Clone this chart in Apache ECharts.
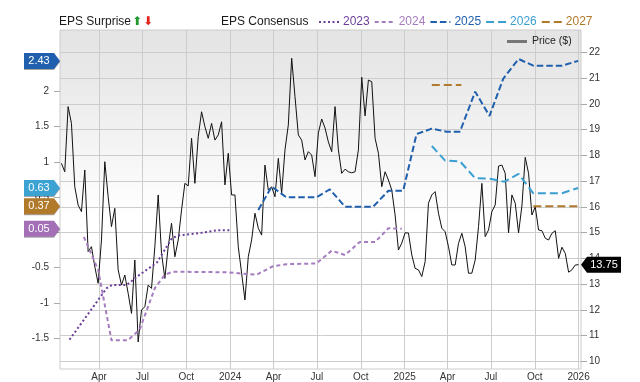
<!DOCTYPE html>
<html>
<head>
<meta charset="utf-8">
<script src="https://cdn.jsdelivr.net/npm/echarts@6/dist/echarts.min.js"></script>
<style>html,body{margin:0;padding:0;background:#fff}#c{width:640px;height:382px}</style>
</head>
<body>
<div id="c"></div>
<script>
// ---------------- data ----------------
const priceStart = '2023-01-12';
const priceStepDays = 7;
const priceValues = [
  17.69,17.36,19.89,19.24,16.78,16.07,15.81,17.43,14.26,14.45,
  13.67,13.03,14.71,17.75,16.39,15.23,15.94,13.55,12.96,13.35,
  12.64,11.86,13.93,10.75,11.99,12.12,12.96,12.83,14.45,16.46,
  14.19,13.22,14.45,15.36,14.06,14.71,15.88,16.91,16.81,18.66,
  16.91,18.72,19.69,19.11,18.66,19.24,18.59,18.79,19.30,16.85,
  18.08,16.46,16.46,14.45,13.42,12.38,14.06,14.71,15.75,15.17,
  14.90,17.62,16.65,16.78,16.39,17.88,16.52,18.21,19.18,21.77,
  20.28,18.79,18.59,17.82,18.14,18.01,17.17,18.87,19.41,19.06,
  18.52,18.14,19.89,18.21,17.30,17.46,17.36,17.32,17.36,18.21,
  21.03,19.53,20.92,20.86,18.66,18.08,16.78,17.36,17.04,16.65,
  15.68,14.32,14.59,14.99,14.98,14.13,13.61,13.55,13.29,13.87,
  16.14,16.46,16.59,15.75,15.17,15.03,14.45,13.74,13.74,14.58,
  14.97,14.45,13.42,13.42,13.93,15.23,16.91,14.84,15.10,15.81,
  16.07,17.58,17.62,17.30,14.99,16.46,16.14,14.99,16.03,17.92,
  17.30,15.68,16.00,15.10,15.07,14.78,14.71,14.97,15.07,14.00,
  14.43,14.19,13.46,13.55,13.74,13.75
];

const eps2023Dates = ['2023-01-29','2023-04-17','2023-04-28','2023-05-29','2023-06-25','2023-07-31','2023-09-01','2023-09-17','2023-10-29','2023-12-04','2023-12-31'];
const eps2023Values = [-1.52,-0.79,-0.745,-0.745,-0.60,-0.43,-0.08,-0.04,-0.01,0.03,0.03];

const eps2024Dates = ['2023-02-28','2023-03-30','2023-04-27','2023-05-31','2023-06-25','2023-07-27','2023-08-17','2023-09-03','2023-12-24','2024-02-25','2024-03-31','2024-04-28','2024-06-30','2024-08-01','2024-08-29','2024-09-29','2024-10-31','2024-11-28','2024-12-26'];
const eps2024Values = [-0.065,-0.53,-1.53,-1.53,-1.38,-0.79,-0.60,-0.557,-0.565,-0.60,-0.48,-0.45,-0.44,-0.26,-0.32,-0.136,-0.136,0.058,0.05];

const eps2025Dates = ['2024-02-29','2024-03-28','2024-04-07','2024-04-28','2024-06-30','2024-07-28','2024-08-29','2024-10-27','2024-11-28','2024-12-29','2025-01-26','2025-02-27','2025-03-30','2025-04-27','2025-05-29','2025-06-28','2025-07-27','2025-08-28','2025-09-28','2025-11-27','2025-12-31'];
const eps2025Values = [0.317,0.648,0.60,0.497,0.497,0.61,0.364,0.364,0.59,0.59,1.394,1.47,1.427,1.427,1.994,1.65,2.18,2.457,2.362,2.362,2.43];

const eps2026Dates = ['2025-02-27','2025-03-27','2025-04-27','2025-05-29','2025-06-29','2025-07-29','2025-08-28','2025-09-28','2025-11-27','2025-12-31'];
const eps2026Values = [1.224,1.016,1.008,0.767,0.761,0.718,0.828,0.554,0.554,0.63];

const eps2027Dates = ['2025-02-27','2025-04-30','2025-06-15','2025-09-28','2025-12-31'];
const eps2027Values = [2.09,2.09,null,0.37,0.37];

const years = ['2023','2024','2025','2026','2027'];
const yearColors = ['#6b3d9a','#a67cc1','#1f5fae','#3b9fd2','#b07a2c'];
const badgeColors = [null,'#a36fb6','#1f5fae','#3ca2d2','#b07a2a'];
const yearDash = [[2,2.5],[4,3],[6.5,3],[8,4],[8,4]];

const xTicks = ['2023-04-01','2023-07-01','2023-10-01','2024-01-01','2024-04-01','2024-07-01','2024-10-01','2025-01-01','2025-04-01','2025-07-01','2025-10-01','2026-01-01'];
const monthNames = ['Jan','Feb','Mar','Apr','May','Jun','Jul','Aug','Sep','Oct','Nov','Dec'];
const priceTicks = [10,11,12,13,14,15,16,17,18,19,20,21,22];
const epsTicks = [-1.5,-1,-0.5,0,0.5,1,1.5,2];

const xMin = '2023-01-09';
const xMax = '2026-01-06';
const priceMin = 9.70, priceMax = 22.866;
const epsMin = -1.936, epsMax = 2.868;

// ---------------- build ----------------
const T = s => Date.parse(s + 'T00:00:00Z');
const DAY = 86400000;
const priceData = priceValues.map((v, i) => [T(priceStart) + i * priceStepDays * DAY, v]);
const epsDates = [eps2023Dates, eps2024Dates, eps2025Dates, eps2026Dates, eps2027Dates];
const epsValues = [eps2023Values, eps2024Values, eps2025Values, eps2026Values, eps2027Values];

const FONT = '"Liberation Sans", Arial, Helvetica, sans-serif';
const GRID = '#cccccc';

const rightArrowPath = 'path://M0,0 L30,0 L36,8 L30,16 L0,16 Z';
const leftArrowPath = 'path://M6,0 L40,0 L40,16 L6,16 L0,8 Z';

const epsSeries = years.map((yr, i) => {
  const vals = epsValues[i];
  const last = vals[vals.length - 1];
  const s = {
    name: yr,
    type: 'line',
    yAxisIndex: 0,
    data: epsDates[i].map((d, k) => [T(d), vals[k]]),
    symbol: 'none',
    connectNulls: false,
    z: 3,
    lineStyle: { color: yearColors[i], width: 2, type: yearDash[i] },
    itemStyle: { color: yearColors[i] },
    emphasis: { disabled: true }
  };
  if (badgeColors[i]) {
    s.markPoint = {
      symbol: rightArrowPath,
      symbolSize: [36, 16],
      symbolKeepAspect: false,
      symbolOffset: [-18, 0],
      silent: true,
      z: 10,
      itemStyle: { color: badgeColors[i], shadowColor: 'rgba(0,0,0,0.35)', shadowOffsetY: 1, shadowBlur: 0 },
      label: { show: true, position: 'inside', offset: [-3, 0], color: '#fff', fontSize: 11, fontFamily: FONT,
               formatter: () => last.toFixed(2) },
      data: [{ coord: [T(xMin), last] }]
    };
  }
  return s;
});

const lastPrice = priceValues[priceValues.length - 1];
const priceSeries = {
  name: 'Price ($)',
  type: 'line',
  yAxisIndex: 1,
  data: priceData,
  symbol: 'none',
  z: 2,
  lineStyle: { color: '#111', width: 1 },
  itemStyle: { color: '#777' },
  emphasis: { disabled: true },
  markPoint: {
    symbol: leftArrowPath,
    symbolSize: [40, 16],
    symbolKeepAspect: false,
    symbolOffset: [20, 0],
    silent: true,
    z: 10,
    itemStyle: { color: '#000' },
    label: { show: true, position: 'inside', offset: [3, 0], color: '#fff', fontSize: 11, fontFamily: FONT,
             formatter: () => lastPrice.toFixed(2) },
    data: [{ coord: [T(xMax), lastPrice] }]
  }
};

const chart = echarts.init(document.getElementById('c'), null, { renderer: 'canvas' });
chart.setOption({
  animation: false,
  backgroundColor: '#fff',
  textStyle: { fontFamily: FONT },
  title: [
    { text: 'EPS Surprise{u|⬆}{d|⬇}', left: 59, top: 16, padding: 0,
      textStyle: { fontSize: 12, fontWeight: 'normal', color: '#1a1a1a', fontFamily: FONT,
        rich: { u: { color: '#1e9a2a', fontSize: 12, fontFamily: 'DejaVu Sans', padding: [0, 0, 0, 1] },
                d: { color: '#e3221b', fontSize: 12, fontFamily: 'DejaVu Sans', padding: [0, 0, 0, 1] } } } },
    { text: 'EPS Consensus', left: 221, top: 16, padding: 0,
      textStyle: { fontSize: 12, fontWeight: 'normal', color: '#1a1a1a', fontFamily: FONT } }
  ],
  legend: [
    { left: 318, top: 16, padding: 0, itemWidth: 20, itemHeight: 14, itemGap: 4,
      selectedMode: false,
      itemStyle: { opacity: 0 },
      textStyle: { fontSize: 12, fontFamily: FONT, padding: [0, 0, 0, -1] },
      data: years.map((y, i) => ({ name: y, textStyle: { color: yearColors[i] } })) },
    { left: 507, top: 36, padding: 0, itemWidth: 20, itemHeight: 3, selectedMode: false,
      icon: 'rect',
      textStyle: { fontSize: 10.5, fontFamily: FONT, color: '#222' },
      data: [{ name: 'Price ($)', itemStyle: { color: '#777', opacity: 1 } }] }
  ],
  grid: {
    left: 60, right: 59, top: 30, bottom: 13, show: true,
    borderColor: GRID, borderWidth: 1,
    backgroundColor: { type: 'linear', x: 0, y: 0, x2: 0, y2: 1,
      colorStops: [{ offset: 0, color: '#e4e4e4' }, { offset: 0.12, color: '#e8e8e8' }, { offset: 0.55, color: '#ffffff' }, { offset: 1, color: '#ffffff' }] }
  },
  xAxis: {
    type: 'value', min: T(xMin), max: T(xMax),
    axisLine: { show: true, lineStyle: { color: GRID } },
    axisTick: { show: false, customValues: xTicks.map(T) },
    splitLine: { show: true, lineStyle: { color: GRID, width: 1 } },
    axisLabel: { customValues: xTicks.map(T), margin: 3, fontSize: 10, color: '#333', fontFamily: FONT,
      hideOverlap: false, showMinLabel: true, showMaxLabel: true,
      formatter: v => { const d = new Date(v); return d.getUTCMonth() === 0 ? String(d.getUTCFullYear()) : monthNames[d.getUTCMonth()]; } }
  },
  yAxis: [
    { type: 'value', position: 'left', min: epsMin, max: epsMax,
      axisLine: { show: false },
      axisTick: { show: true, length: 6, customValues: epsTicks, lineStyle: { color: '#aaa' } },
      splitLine: { show: false },
      axisLabel: { customValues: epsTicks, margin: 11, fontSize: 10, color: '#333', fontFamily: FONT } },
    { type: 'value', position: 'right', min: priceMin, max: priceMax, splitNumber: 13,
      axisLine: { show: false },
      axisTick: { show: true, length: 6, customValues: priceTicks, lineStyle: { color: '#aaa' } },
      splitLine: { show: true, lineStyle: { color: GRID, width: 1 } },
      axisLabel: { customValues: priceTicks, margin: 8, fontSize: 10, color: '#333', fontFamily: FONT } }
  ],
  series: [priceSeries].concat(epsSeries)
});
</script>
</body>
</html>
